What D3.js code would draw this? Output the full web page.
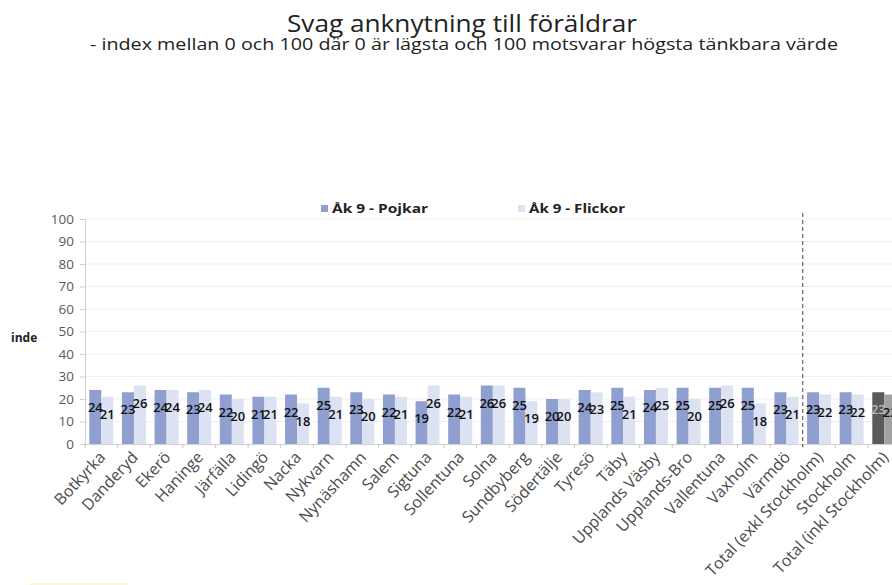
<!DOCTYPE html>
<html>
<head>
<meta charset="utf-8">
<script src="https://cdn.jsdelivr.net/npm/d3@7"></script>
<style>
  html, body { margin: 0; padding: 0; background: #fff; }
  svg { display: block; font-family: "Open Sans", "Noto Sans", sans-serif; }
</style>
</head>
<body>
<svg id="chart" width="892" height="585"></svg>
<script>
const categories = ["Botkyrka","Danderyd","Ekerö","Haninge","Järfälla","Lidingö","Nacka","Nykvarn","Nynäshamn","Salem","Sigtuna","Sollentuna","Solna","Sundbyberg","Södertälje","Tyresö","Täby","Upplands Väsby","Upplands-Bro","Vallentuna","Vaxholm","Värmdö","Total (exkl Stockholm)","Stockholm","Total (inkl Stockholm)"];
const seriesNames = ["Åk 9 - Pojkar", "Åk 9 - Flickor"];
const pojkar  = [24,23,24,23,22,21,22,25,23,22,19,22,26,25,20,24,25,24,25,25,25,23,23,23,23];
const flickor = [21,26,24,24,20,21,18,21,20,21,26,21,26,19,20,23,21,25,20,26,18,21,22,22,22];
const yTicks = [0,10,20,30,40,50,60,70,80,90,100];
const titleText = "Svag anknytning till föräldrar";
const subtitleText = "- index mellan 0 och 100 där 0 är lägsta och 100 motsvarar högsta tänkbara värde";
const yAxisTitle = "inde";
const dividerAfter = "Värmdö";
const highlightCategory = "Total (inkl Stockholm)";

const seriesColors = ["#8F9FD0", "#DCE2F1"];
const highlightColors = ["#5A5A5A", "#A3A3A3"];

const svg = d3.select("#chart");
const plotLeft = 85, plotTop = 219, plotBottom = 444;
const step = 32.625;
const plotRight = plotLeft + step * categories.length;

const x0 = d3.scaleBand().domain(categories).range([plotLeft, plotRight]).padding(0);
const x1 = d3.scaleBand().domain(seriesNames).range([0, x0.bandwidth()]).paddingInner(0).paddingOuter(0.36);
const y = d3.scaleLinear().domain([0, 100]).range([plotBottom, plotTop]);

// Title
svg.append("text").attr("x", 462).attr("y", 32).attr("text-anchor", "middle")
  .attr("font-size", 23).attr("fill", "#222")
  .attr("textLength", 350).attr("lengthAdjust", "spacingAndGlyphs").text(titleText);
svg.append("text").attr("x", 464).attr("y", 50).attr("text-anchor", "middle")
  .attr("font-size", 15.5).attr("fill", "#222")
  .attr("textLength", 748).attr("lengthAdjust", "spacingAndGlyphs").text(subtitleText);

// Gridlines
svg.append("g").selectAll("line").data(yTicks.filter(d => d > 0)).join("line")
  .attr("x1", plotLeft).attr("x2", 892).attr("y1", d => y(d)).attr("y2", d => y(d))
  .attr("stroke", "#EFEFEF").attr("stroke-width", 1);

// Y axis
const yAxis = d3.axisLeft(y).tickValues(yTicks).tickSize(5).tickPadding(6);
const gy = svg.append("g").attr("transform", `translate(${plotLeft},0)`).call(yAxis);
gy.select(".domain").attr("stroke", "#D0D0D0");
gy.selectAll(".tick line").attr("stroke", "#D0D0D0");
gy.selectAll(".tick text").attr("font-size", 13.5).attr("fill", "#595959")
  .attr("font-family", "Open Sans, sans-serif");

svg.append("text").attr("x", 11).attr("y", 342).attr("font-size", 12)
  .attr("font-weight", "bold").attr("fill", "#222").text(yAxisTitle);

// Bars
const rows = categories.map((c, i) => ({ cat: c, vals: [pojkar[i], flickor[i]] }));
const groups = svg.append("g").selectAll("g").data(rows).join("g")
  .attr("transform", d => `translate(${x0(d.cat)},0)`);
groups.selectAll("rect").data(d => d.vals.map((v, j) => ({ cat: d.cat, s: seriesNames[j], j, v }))).join("rect")
  .attr("x", d => x1(d.s)).attr("width", x1.bandwidth())
  .attr("y", d => y(d.v)).attr("height", d => y(0) - y(d.v))
  .attr("fill", d => d.cat === highlightCategory ? highlightColors[d.j] : seriesColors[d.j]);

// X axis
const xAxis = d3.axisBottom(x0).tickSize(0).tickFormat("");
const gx = svg.append("g").attr("transform", `translate(0,${plotBottom})`).call(xAxis);
gx.select(".domain").attr("stroke", "#D0D0D0");
// boundary ticks
svg.append("g").selectAll("line").data(categories.concat(["__end"])).join("line")
  .attr("x1", (d, i) => plotLeft + i * x0.step()).attr("x2", (d, i) => plotLeft + i * x0.step())
  .attr("y1", plotBottom).attr("y2", plotBottom + 4).attr("stroke", "#C8C8C8");

// Category labels
svg.append("g").selectAll("text").data(categories).join("text")
  .attr("transform", d => `translate(${x0(d) + x0.bandwidth() / 2 + 5},${plotBottom + 14}) rotate(-47)`)
  .attr("text-anchor", "end").attr("font-size", 16).attr("fill", "#4A4A4A")
  .text(d => d);

// Divider
const dx = x0(dividerAfter) + x0.bandwidth();
svg.append("line").attr("x1", dx).attr("x2", dx).attr("y1", 213).attr("y2", plotBottom + 3)
  .attr("stroke", "#555").attr("stroke-width", 1.1).attr("stroke-dasharray", "4,3");

// Value labels
groups.selectAll("text").data(d => d.vals.map((v, j) => ({ cat: d.cat, s: seriesNames[j], j, v }))).join("text")
  .attr("x", d => x1(d.s) + x1.bandwidth() / 2)
  .attr("y", d => y(d.v) + 22)
  .attr("text-anchor", "middle").attr("font-size", 13).attr("font-weight", 600)
  .attr("fill", d => (d.cat === highlightCategory && d.j === 0) ? "#BDBDBD" : "#111")
  .text(d => d.v);

// Legend
const legendX = [321, 518];
const lg = svg.append("g").selectAll("g").data(seriesNames).join("g")
  .attr("transform", (d, i) => `translate(${legendX[i]},205)`);
lg.append("rect").attr("width", 7).attr("height", 7).attr("fill", (d, i) => seriesColors[i]);
lg.append("text").attr("x", 11).attr("y", 8).attr("font-size", 13).attr("font-weight", "bold")
  .attr("fill", "#222").attr("textLength", 96).attr("lengthAdjust", "spacingAndGlyphs").text(d => d);

// faint yellow mark bottom-left
svg.append("line").attr("x1", 30).attr("x2", 128).attr("y1", 584).attr("y2", 584)
  .attr("stroke", "#F8F8D8").attr("stroke-width", 2);
</script>
</body>
</html>
